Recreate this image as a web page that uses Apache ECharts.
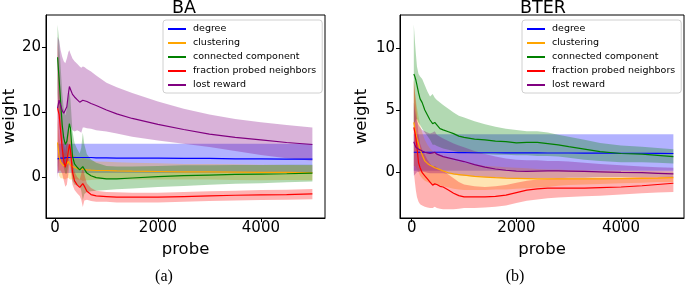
<!DOCTYPE html>
<html>
<head>
<meta charset="utf-8">
<script src="https://cdn.jsdelivr.net/npm/echarts@6/dist/echarts.min.js"></script>
<style>
html, body { margin: 0; padding: 0; background: #fff; }
#main { width: 685px; height: 286px; }
</style>
</head>
<body>
<div id="main"></div>
<script>
// feature names, in legend order
var featureNames = ['degree', 'clustering', 'connected component', 'fraction probed neighbors', 'lost reward'];
var xTicks = [0, 2000, 4000];
var baYTicks = [0, 10, 20];
var bterYTicks = [0, 5, 10];

// ---- BA ----
var baX = [50, 80, 110, 140, 170, 200, 230, 260, 280, 300, 340, 380, 430, 480, 510, 540, 570, 620, 700, 800, 1000, 1200, 1500, 2000, 2500, 3000, 3500, 4000, 4500, 5000];

var baDegMean = [2.8, 2.8, 2.9, 2.9, 2.9, 2.9, 3.0, 3.0, 3.0, 3.0, 3.0, 3.0, 3.0, 3.0, 3.0, 3.0, 3.0, 3.0, 3.0, 2.95, 2.95, 2.9, 2.9, 2.9, 2.85, 2.85, 2.8, 2.8, 2.75, 2.75];
var baDegHi = [5.1, 5.1, 5.1, 5.1, 5.1, 5.1, 5.1, 5.1, 5.1, 5.1, 5.1, 5.1, 5.1, 5.1, 5.1, 5.1, 5.1, 5.1, 5.1, 5.1, 5.1, 5.1, 5.1, 5.1, 5.1, 5.1, 5.1, 5.1, 5.1, 5.1];
var baDegLo = [0.6, 0.6, 0.6, 0.6, 0.6, 0.6, 0.6, 0.6, 0.6, 0.6, 0.6, 0.6, 0.6, 0.6, 0.6, 0.6, 0.6, 0.6, 0.6, 0.6, 0.6, 0.6, 0.6, 0.6, 0.6, 0.6, 0.6, 0.6, 0.6, 0.6];

var baCluMean = [5.3, 3.2, 2.3, 2.0, 1.7, 1.6, 2.0, 2.4, 2.2, 1.8, 1.6, 1.5, 1.3, 1.2, 1.15, 1.2, 1.15, 1.1, 1.05, 1.0, 1.0, 0.95, 0.9, 0.85, 0.8, 0.8, 0.75, 0.7, 0.7, 0.65];
var baCluHi = [8.8, 6.2, 4.8, 4.2, 3.7, 3.6, 4.2, 4.9, 4.7, 4.0, 3.6, 3.3, 3.0, 2.8, 2.75, 3.0, 2.85, 2.7, 2.55, 2.4, 2.35, 2.25, 2.2, 2.1, 2.0, 2.0, 1.95, 1.9, 1.85, 1.8];
var baCluLo = [1.8, 0.2, -0.2, -0.2, -0.3, -0.4, -0.2, -0.1, -0.3, -0.4, -0.4, -0.3, -0.4, -0.4, -0.45, -0.6, -0.55, -0.5, -0.45, -0.4, -0.35, -0.35, -0.4, -0.4, -0.4, -0.4, -0.45, -0.5, -0.45, -0.5];

var baConMean = [18.4, 15.0, 11.5, 8.0, 6.0, 5.0, 5.5, 7.2, 8.2, 7.5, 3.2, 2.0, 1.5, 1.1, 1.2, 1.6, 1.2, 0.6, 0.2, -0.1, -0.3, -0.3, -0.15, 0.05, 0.2, 0.3, 0.4, 0.45, 0.5, 0.6];
var baConHi = [23.4, 21, 17, 13, 10.5, 9.5, 10.5, 12.5, 13, 12, 7, 5.2, 4.3, 3.6, 4.5, 6.8, 5.0, 3.5, 2.7, 2.2, 1.7, 1.6, 1.6, 1.7, 1.8, 1.8, 1.85, 1.85, 1.9, 1.9];
var baConLo = [13, 9, 6, 3, 1.5, 0.5, 0.5, 2.0, 3.4, 3.0, -0.6, -1.2, -1.3, -1.4, -2.1, -3.6, -2.6, -2.3, -2.2, -2.1, -2.0, -1.9, -1.75, -1.55, -1.4, -1.2, -1.05, -0.95, -0.8, -0.7];

var baFrMean = [10.6, 9.6, 7.0, 4.5, 2.5, 1.5, 2.5, 4.0, 5.0, 4.2, 0.8, -0.6, -1.2, -1.6, -1.4, -1.0, -1.4, -2.2, -2.7, -2.9, -3.0, -3.1, -3.1, -3.1, -3.0, -2.9, -2.8, -2.75, -2.7, -2.6];
var baFrHi = [21, 17, 12, 7.5, 5, 4, 5.5, 7, 7.5, 6.5, 2.5, 0.8, 0.0, -0.4, 0.5, 1.5, 0.4, -1.0, -1.7, -2.1, -2.3, -2.35, -2.4, -2.4, -2.3, -2.2, -2.1, -2.0, -1.95, -1.85];
var baFrLo = [0.5, 1.0, 1.0, 0.5, -0.5, -1.5, -1.2, 0.5, 2.0, 1.5, -1.2, -2.0, -2.5, -2.9, -3.5, -4.6, -3.6, -3.5, -3.7, -3.8, -3.8, -3.9, -3.9, -3.9, -3.8, -3.7, -3.6, -3.55, -3.5, -3.4];

var baLostMean = [10.6, 11.8, 11.0, 10.2, 9.8, 9.5, 10.8, 12.8, 13.9, 13.5, 12.7, 12.3, 11.9, 11.5, 11.3, 11.8, 11.8, 11.6, 11.3, 11.0, 10.3, 9.7, 9.0, 8.1, 7.3, 6.6, 6.1, 5.7, 5.3, 5.0];
var baLostHi = [21.5, 21, 19.5, 18.5, 17.8, 17.5, 18.2, 19.2, 19.5, 19, 18.2, 17.8, 17.4, 17.0, 16.8, 17.0, 16.9, 16.6, 16.2, 15.6, 14.5, 13.8, 12.9, 11.6, 10.5, 9.6, 8.9, 8.4, 8.0, 7.6];
var baLostLo = [-0.3, 2.6, 2.5, 1.9, 1.8, 1.5, 3.4, 6.4, 8.3, 8.0, 7.2, 7.0, 7.2, 7.0, 6.8, 7.6, 7.6, 7.5, 7.4, 7.2, 7.0, 6.7, 6.2, 5.6, 5.1, 4.6, 4.0, 3.4, 2.9, 2.5];

// ---- BTER ----
var bterX = [40, 60, 80, 100, 130, 160, 200, 250, 300, 350, 400, 440, 480, 540, 600, 700, 800, 900, 1000, 1200, 1400, 1600, 1800, 2000, 2200, 2400, 2600, 2800, 3000, 3300, 3600, 4000, 4400, 4700, 5000];

var btDegMean = [1.6, 1.6, 1.6, 1.6, 1.6, 1.6, 1.6, 1.6, 1.6, 1.6, 1.6, 1.6, 1.6, 1.6, 1.6, 1.58, 1.58, 1.57, 1.57, 1.56, 1.56, 1.56, 1.55, 1.55, 1.55, 1.55, 1.54, 1.54, 1.54, 1.53, 1.53, 1.52, 1.52, 1.51, 1.5];
var btDegHi = [3.05, 3.05, 3.05, 3.05, 3.05, 3.05, 3.05, 3.05, 3.05, 3.05, 3.05, 3.05, 3.05, 3.05, 3.05, 3.05, 3.05, 3.05, 3.05, 3.05, 3.05, 3.05, 3.05, 3.05, 3.05, 3.05, 3.05, 3.05, 3.05, 3.05, 3.05, 3.05, 3.05, 3.05, 3.05];
var btDegLo = [0.1, 0.1, 0.1, 0.1, 0.1, 0.1, 0.1, 0.1, 0.1, 0.1, 0.1, 0.1, 0.1, 0.1, 0.1, 0.1, 0.1, 0.1, 0.1, 0.1, 0.1, 0.1, 0.1, 0.1, 0.1, 0.1, 0.1, 0.1, 0.1, 0.1, 0.1, 0.1, 0.1, 0.1, 0.1];

var btCluMean = [4.0, 3.5, 3.1, 2.7, 2.3, 1.8, 1.4, 0.9, 0.7, 0.55, 0.45, 0.35, 0.3, 0.2, 0.1, -0.05, -0.15, -0.2, -0.25, -0.35, -0.4, -0.45, -0.48, -0.5, -0.52, -0.55, -0.55, -0.55, -0.55, -0.55, -0.55, -0.52, -0.5, -0.48, -0.45];
var btCluHi = [7.5, 6.5, 5.8, 5.2, 4.5, 3.8, 3.2, 2.6, 2.2, 1.9, 1.7, 1.6, 1.5, 1.35, 1.25, 1.1, 0.95, 0.85, 0.75, 0.6, 0.5, 0.45, 0.4, 0.35, 0.3, 0.25, 0.2, 0.2, 0.15, 0.12, 0.1, 0.1, 0.08, 0.06, 0.05];
var btCluLo = [0.5, 0.5, 0.4, 0.2, 0.0, -0.3, -0.5, -0.7, -0.8, -0.9, -0.95, -1.0, -1.0, -1.1, -1.15, -1.25, -1.35, -1.4, -1.45, -1.45, -1.45, -1.4, -1.4, -1.35, -1.3, -1.25, -1.2, -1.1, -1.05, -1.0, -0.95, -0.9, -0.85, -0.8, -0.8];

var btConMean = [7.9, 7.7, 7.4, 7.0, 6.4, 5.9, 5.6, 5.0, 4.6, 4.2, 3.9, 4.0, 3.8, 3.5, 3.4, 3.25, 3.1, 2.9, 2.8, 2.65, 2.6, 2.5, 2.45, 2.35, 2.4, 2.4, 2.3, 2.2, 2.05, 1.85, 1.65, 1.5, 1.45, 1.35, 1.25];
var btConHi = [11.9, 10.6, 9.5, 8.5, 7.9, 7.7, 7.5, 7.0, 6.5, 6.1, 6.3, 6.0, 5.8, 5.6, 5.4, 5.1, 4.8, 4.55, 4.4, 4.1, 3.85, 3.65, 3.5, 3.4, 3.3, 3.3, 3.2, 3.0, 2.85, 2.6, 2.35, 2.15, 2.05, 1.95, 1.85];
var btConLo = [3.9, 4.0, 4.2, 4.3, 4.0, 3.8, 3.5, 3.2, 2.9, 2.6, 2.2, 2.2, 2.1, 2.0, 1.9, 1.8, 1.7, 1.6, 1.55, 1.5, 1.45, 1.4, 1.4, 1.35, 1.35, 1.3, 1.3, 1.25, 1.15, 1.0, 0.9, 0.8, 0.8, 0.75, 0.7];

var btFrMean = [3.6, 3.2, 2.7, 2.0, 0.75, 0.35, -0.05, -0.3, -0.55, -0.8, -1.05, -0.95, -1.0, -1.15, -1.2, -1.45, -1.7, -1.9, -2.0, -2.0, -2.0, -1.95, -1.85, -1.65, -1.45, -1.35, -1.3, -1.3, -1.3, -1.3, -1.25, -1.2, -1.1, -1.0, -0.9];
var btFrHi = [7.4, 6.5, 5.5, 4.5, 3.0, 2.3, 1.8, 1.4, 1.0, 0.7, 0.4, 0.5, 0.4, 0.2, 0.1, -0.2, -0.5, -0.8, -1.0, -1.15, -1.2, -1.15, -1.05, -0.85, -0.7, -0.6, -0.55, -0.5, -0.5, -0.5, -0.45, -0.45, -0.4, -0.4, -0.35];
var btFrLo = [0.0, -0.8, -1.5, -2.0, -2.4, -2.6, -2.7, -2.8, -2.85, -2.9, -2.9, -2.8, -2.9, -2.95, -3.0, -3.0, -3.0, -2.95, -2.9, -2.9, -2.85, -2.8, -2.7, -2.5, -2.3, -2.2, -2.1, -2.05, -2.0, -1.95, -1.9, -1.8, -1.7, -1.65, -1.6];

var btLostMean = [2.45, 2.2, 2.0, 1.95, 1.85, 1.8, 1.7, 1.6, 1.55, 1.5, 1.55, 1.6, 1.45, 1.35, 1.25, 1.15, 1.05, 0.95, 0.85, 0.6, 0.4, 0.25, 0.15, 0.08, 0.05, 0.08, 0.1, 0.1, 0.08, 0.05, 0.02, -0.02, -0.05, -0.1, -0.15];
var btLostHi = [5.6, 5.0, 4.5, 4.1, 3.8, 3.6, 3.4, 3.3, 3.2, 3.1, 3.2, 3.3, 3.0, 2.85, 2.7, 2.5, 2.3, 2.15, 2.0, 1.7, 1.45, 1.25, 1.1, 1.0, 0.95, 0.95, 0.9, 0.9, 0.85, 0.75, 0.65, 0.55, 0.45, 0.4, 0.35];
var btLostLo = [-0.3, -0.2, -0.1, 0.0, 0.0, 0.05, 0.05, 0.0, -0.05, -0.1, -0.1, -0.1, -0.1, -0.1, -0.1, -0.15, -0.2, -0.25, -0.3, -0.35, -0.4, -0.45, -0.5, -0.55, -0.55, -0.5, -0.5, -0.5, -0.45, -0.45, -0.4, -0.4, -0.4, -0.4, -0.4];

var lineColors = ['#0000ff', '#ffa500', '#008000', '#ff0000', '#800080'];
var bandColors = ['rgba(0,0,255,0.3)', 'rgba(255,165,0,0.3)', 'rgba(0,128,0,0.3)', 'rgba(255,0,0,0.3)', 'rgba(128,0,128,0.3)'];

var FONT = 'DejaVu Sans';

function pairs(xs, ys) {
    return xs.map(function (x, i) { return [x, ys[i]]; });
}

// shaded band between lo and hi, drawn as one polygon through the axes
function bandSeries(idx, xs, lo, hi, color) {
    var rows = xs.map(function (x, i) { return [x, lo[i], hi[i]]; });
    return {
        type: 'custom', xAxisIndex: idx, yAxisIndex: idx, silent: true,
        data: rows, encode: { x: 0, y: [1, 2] },
        renderItem: function (params, api) {
            if (params.dataIndex !== 0) return null;
            var pts = [];
            for (var i = 0; i < rows.length; i++) pts.push(api.coord([rows[i][0], rows[i][2]]));
            for (var j = rows.length - 1; j >= 0; j--) pts.push(api.coord([rows[j][0], rows[j][1]]));
            return { type: 'polygon', shape: { points: pts }, style: { fill: color, stroke: null } };
        }
    };
}

function panelSeries(idx, xs, feats) {
    var out = [];
    feats.forEach(function (f, k) {
        out.push({
            name: featureNames[k], type: 'line', xAxisIndex: idx, yAxisIndex: idx,
            data: pairs(xs, f[0]), symbol: 'none', showSymbol: false,
            lineStyle: { color: lineColors[k], width: 1.2 },
            itemStyle: { color: lineColors[k] }
        });
        out.push(bandSeries(idx, xs, f[2], f[1], bandColors[k]));
    });
    return out;
}

var baFeats = [
    [baDegMean, baDegHi, baDegLo],
    [baCluMean, baCluHi, baCluLo],
    [baConMean, baConHi, baConLo],
    [baFrMean, baFrHi, baFrLo],
    [baLostMean, baLostHi, baLostLo]
];
var bterFeats = [
    [btDegMean, btDegHi, btDegLo],
    [btCluMean, btCluHi, btCluLo],
    [btConMean, btConHi, btConLo],
    [btFrMean, btFrHi, btFrLo],
    [btLostMean, btLostHi, btLostLo]
];

function plain(v) { return String(v); }

function xAxisCfg(idx, min, max) {
    return {
        gridIndex: idx, type: 'value', min: min, max: max,
        axisLine: { show: true, onZero: false, lineStyle: { color: '#000', width: 1 } },
        axisTick: { show: true, length: 4, customValues: xTicks, lineStyle: { color: '#000' } },
        axisLabel: { customValues: xTicks, formatter: plain, fontSize: 15, color: '#000', fontFamily: FONT, margin: 3 },
        splitLine: { show: false },
        name: 'probe', nameLocation: 'middle', nameGap: 19,
        nameTextStyle: { fontSize: 16.5, color: '#000', fontFamily: FONT }
    };
}
function yAxisCfg(idx, min, max, ticks, gap) {
    return {
        gridIndex: idx, type: 'value', min: min, max: max,
        axisLine: { show: true, onZero: false, lineStyle: { color: '#000', width: 1 } },
        axisTick: { show: true, length: 4, customValues: ticks, lineStyle: { color: '#000' } },
        axisLabel: { customValues: ticks, formatter: plain, fontSize: 15, color: '#000', fontFamily: FONT, margin: 5 },
        splitLine: { show: false },
        name: 'weight', nameLocation: 'middle', nameGap: gap,
        nameTextStyle: { fontSize: 16.5, color: '#000', fontFamily: FONT }
    };
}
function legendCfg(left) {
    return {
        data: featureNames, orient: 'vertical', left: left, top: 20,
        icon: 'rect', itemWidth: 18, itemHeight: 2, itemGap: 2,
        padding: [3, 6, 2, 5],
        backgroundColor: 'rgba(255,255,255,0.8)', borderColor: '#d0d0d0', borderWidth: 1, borderRadius: 3,
        selectedMode: false,
        textStyle: { fontSize: 9.5, lineHeight: 12, color: '#000', fontFamily: FONT, padding: [0, 0, 0, 2] }
    };
}

var myChart = echarts.init(document.getElementById('main'));
var option = {
    animation: false,
    backgroundColor: '#fff',
    grid: [
        { left: 43, top: 15, width: 282, height: 203, show: true, borderColor: '#000', borderWidth: 1, backgroundColor: 'transparent' },
        { left: 400, top: 15, width: 284, height: 203, show: true, borderColor: '#000', borderWidth: 1, backgroundColor: 'transparent' }
    ],
    xAxis: [xAxisCfg(0, -175, 5245), xAxisCfg(1, -224, 5203)],
    yAxis: [yAxisCfg(0, -6.3, 24.9, baYTicks, 26), yAxisCfg(1, -3.7, 12.66, bterYTicks, 30)],
    legend: [legendCfg(163), legendCfg(522)],
    graphic: [
        { type: 'text', x: 184, y: 8, style: { text: 'BA', fontSize: 17.5, fontFamily: FONT, fill: '#000', textAlign: 'center', textVerticalAlign: 'middle' } },
        { type: 'text', x: 543, y: 8, style: { text: 'BTER', fontSize: 17.5, fontFamily: FONT, fill: '#000', textAlign: 'center', textVerticalAlign: 'middle' } },
        { type: 'text', x: 164, y: 277, style: { text: '(a)', fontSize: 16, fontFamily: 'Liberation Serif', fill: '#000', textAlign: 'center', textVerticalAlign: 'middle' } },
        { type: 'text', x: 515, y: 277, style: { text: '(b)', fontSize: 16, fontFamily: 'Liberation Serif', fill: '#000', textAlign: 'center', textVerticalAlign: 'middle' } }
    ],
    series: panelSeries(0, baX, baFeats).concat(panelSeries(1, bterX, bterFeats))
};
myChart.setOption(option);
window.addEventListener('resize', function () {
    myChart.resize();
});
</script>
</body>
</html>
